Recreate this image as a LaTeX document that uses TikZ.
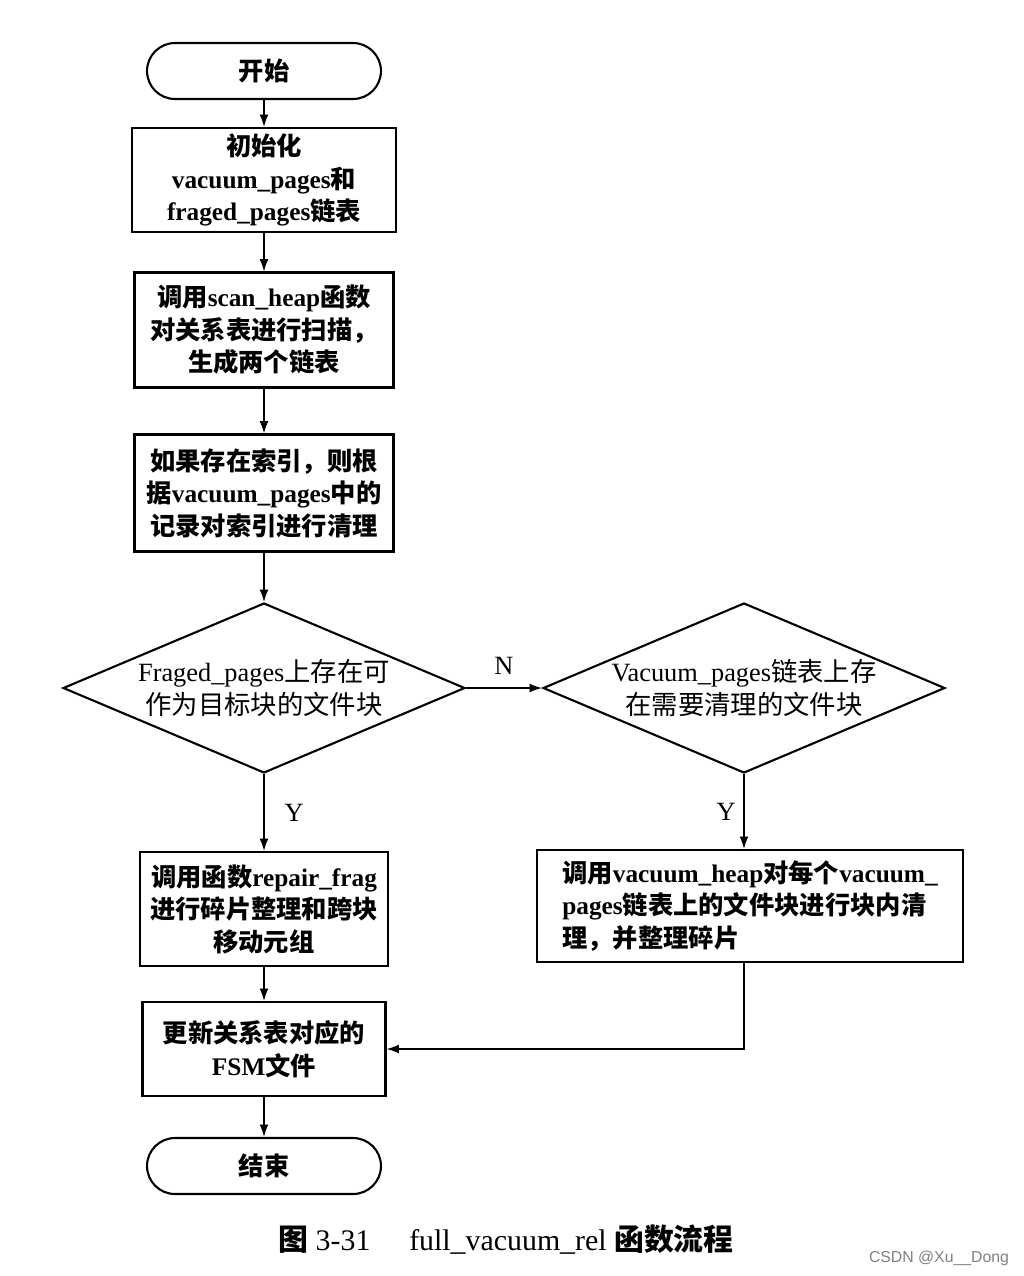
\documentclass[tikz,border=0pt]{standalone}
\usepackage{fontspec}
\setmainfont{Liberation Serif}
\newfontfamily\zhfont{Noto Sans CJK SC}
\newfontfamily\wmfont{Liberation Sans}
\newcommand{\zh}[1]{{\zhfont #1}}
\usetikzlibrary{shapes.geometric,arrows.meta}

\tikzstyle{terminal} = [draw,line width=1.2pt,rounded corners=0.56cm,minimum width=4.68cm,minimum height=1.12cm,font=\fontsize{14.4}{18}\selectfont\bfseries]
\tikzstyle{procbox} = [draw,line width=1.2pt,align=center,inner sep=0pt,font=\fontsize{14.4}{18.5}\selectfont\bfseries]
\tikzstyle{decision} = [draw,diamond,line width=1.2pt,aspect=2.36,inner sep=0pt,minimum width=8.04cm,minimum height=3.4cm,align=center,font=\fontsize{15}{19}\selectfont]
\tikzstyle{branch} = [font=\fontsize{15}{18}\selectfont]
\tikzstyle{flow} = [->,>={Latex[length=7pt,width=5pt]},line width=0.8pt]

\begin{document}
\begin{tikzpicture}[x=0.02cm,y=-0.02cm]
		\useasboundingbox (0,0) rectangle (1024,1276);
		\node[terminal] (start) at (264,71) {\zh{开始}};
		\node[procbox,minimum width=5.28cm,minimum height=2.08cm] (init) at (264,180) {\zh{初始化}\\vacuum\_pages\zh{和}\\fraged\_pages\zh{链表}};
		\node[procbox,minimum width=5.18cm,minimum height=2.3cm] (scan) at (264,330) {\zh{调用}scan\_heap\zh{函数}\\\zh{对关系表进行扫描，}\\\zh{生成两个链表}};
		\node[procbox,minimum width=5.18cm,minimum height=2.34cm] (index) at (264,493) {\zh{如果存在索引，则根}\\\zh{据}vacuum\_pages\zh{中的}\\\zh{记录对索引进行清理}};
		\node[decision] (frag) at (264,688) {Fraged\_pages\zh{上存在可}\\\zh{作为目标块的文件块}};
		\node[decision] (vac) at (744,688) {Vacuum\_pages\zh{链表上存}\\\zh{在需要清理的文件块}};
		\node[procbox,minimum width=4.96cm,minimum height=2.28cm] (repair) at (264,909) {\zh{调用函数}repair\_frag\\\zh{进行碎片整理和跨块}\\\zh{移动元组}};
		\node[procbox,align=left,minimum width=8.52cm,minimum height=2.24cm] (heap) at (750,906) {\zh{调用}vacuum\_heap\zh{对每个}vacuum\_\\pages\zh{链表上的文件块进行块内清}\\\zh{理，并整理碎片}};
		\node[procbox,minimum width=4.86cm,minimum height=1.88cm] (fsm) at (264,1049) {\zh{更新关系表对应的}\\FSM\zh{文件}};
		\node[terminal] (stop) at (264,1166) {\zh{结束}};
		\draw[flow] (start) -- (init);
		\draw[flow] (init) -- (scan);
		\draw[flow] (scan) -- (index);
		\draw[flow] (index) -- (frag);
		\draw[flow] (frag) -- node[branch,above=4pt] {N} (vac);
		\draw[flow] (frag) -- node[branch,right=8pt] {Y} (repair);
		\draw[flow] (vac) -- node[branch,left=1pt] {Y} (vac |- heap.north);
		\draw[flow] (heap.south -| vac) |- (fsm);
		\draw[flow] (repair) -- (fsm);
		\draw[flow] (fsm) -- (stop);
		\node[font=\fontsize{17}{20}\selectfont] (caption) at (506,1240) {{\zhfont\bfseries 图} 3-31\hspace{1.3em}full\_vacuum\_rel {\zhfont\bfseries 函数流程}};
		\node[font=\wmfont\fontsize{9}{11}\selectfont,text=gray] (mark) at (939,1258) {CSDN @Xu\_\_Dong};
		\end{tikzpicture}
\end{document}
